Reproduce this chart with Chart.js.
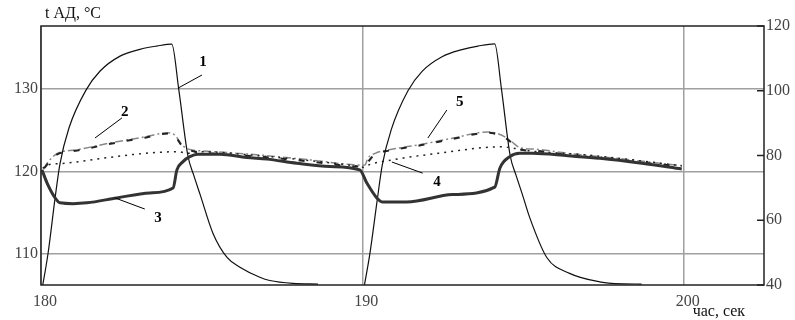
<!DOCTYPE html>
<html>
<head>
<meta charset="utf-8">
<script src="https://cdn.jsdelivr.net/npm/chart.js@4.4.1/dist/chart.umd.min.js"></script>
<style>
  body { margin: 0; background: #fff; }
</style>
</head>
<body>
<canvas id="graf" width="795" height="320"></canvas>
<script>
// оси
const xTicks = [180, 190, 200];
const leftTicks = [110, 120, 130];
const rightTicks = [40, 60, 80, 100, 120];

// кривая 1 (правая ось)
const t1 = [180.02, 180.22, 180.44, 180.59, 180.87, 181.40, 181.84, 182.46, 183.08, 183.60, 184.07,
            184.29, 184.57, 184.75, 184.95, 185.35, 185.79, 186.19, 186.81, 187.12, 187.84, 188.62,
            189.30,
            190.03, 190.24, 190.46, 190.62, 190.90, 191.42, 191.86, 192.48, 193.10, 193.60, 194.12,
            194.33, 194.60, 194.78, 194.98, 195.21, 195.74, 196.45, 197.48, 197.85, 198.69];
const v1 = [38, 49.8, 67.0, 77.4, 88.5, 100.2, 106.1, 110.7, 112.8, 113.8, 114.4,
            100.2, 80, 74, 68, 56, 48.5, 45.5, 42.4, 41.4, 40.5, 40.3,
            null,
            38, 50, 66, 77, 88, 100, 106, 110.5, 112.7, 113.8, 114.5,
            100.5, 80, 74, 68, 60.8, 48.5, 43.6, 40.8, 40.4, 40.3];

// кривая 2
const t2 = [180.08, 180.19, 180.40, 180.65, 181.06, 182.21, 183.23, 183.95, 184.17, 184.39, 184.70,
            185.00, 186.81, 188.40, 189.92, 190.08, 190.17, 190.40, 190.79, 191.85, 192.88, 193.90,
            194.34, 194.65, 194.90, 195.40, 196.40, 197.90, 199.94];
const v2 = [120.3, 121.0, 121.9, 122.4, 122.6, 123.5, 124.2, 124.7, 124.4, 123.2, 122.6,
            122.5, 122.0, 121.4, 120.8, 120.8, 121.6, 122.2, 122.6, 123.3, 124.1, 124.8,
            124.4, 123.6, 122.9, 122.7, 122.2, 121.6, 120.7];

// кривая 3
const t3 = [180.03, 180.19, 180.44, 180.59, 181.00, 181.43, 182.36, 183.39, 184.11, 184.23, 184.42,
            184.63, 184.88, 185.57, 186.40, 187.03, 187.96, 189.00, 189.92, 190.14, 190.45, 190.64,
            191.38, 192.80, 194.12, 194.28, 194.59, 194.90, 195.30, 196.40, 197.39, 198.70, 199.94];
const v3 = [120.2, 118.6, 116.8, 116.2, 116.1, 116.2, 116.8, 117.4, 118.0, 120.2, 121.2,
            121.8, 122.1, 122.1, 121.7, 121.5, 121.0, 120.6, 120.2, 118.6, 116.8, 116.3,
            116.3, 117.2, 118.1, 120.4, 121.8, 122.2, 122.2, 121.9, 121.6, 121.0, 120.3];

// кривая 4
const t4 = [180.05, 180.22, 180.75, 181.90, 183.23, 184.26, 184.57, 185.00, 186.80, 188.40, 189.92,
            190.05, 190.20, 190.92, 192.35, 194.34, 194.74, 195.00, 197.00, 199.94];
const v4 = [120.4, 120.8, 121.0, 121.6, 122.2, 122.4, 122.2, 122.4, 121.9, 121.3, 120.6,
            120.5, 120.8, 121.4, 122.2, 123.0, 122.8, 122.6, 122.0, 120.7];

// кривая 5
const t5 = [180.10, 180.40, 180.65, 181.06, 182.21, 183.23, 183.95, 184.17, 184.39, 184.70,
            185.00, 186.81, 188.40, 189.92, 190.10, 190.40, 190.79, 191.85, 192.88, 193.90,
            194.34, 194.65, 194.90, 195.40, 196.40, 197.90, 199.94];
const v5 = [120.4, 121.8, 122.3, 122.5, 123.4, 124.1, 124.6, 124.3, 123.1, 122.5,
            122.3, 121.8, 121.2, 120.6, 120.9, 122.1, 122.5, 123.2, 124.0, 124.7,
            124.3, 123.5, 122.7, 122.5, 122.0, 121.4, 120.6];

// подписи кривых: текст, точка текста, начало и конец выноски (в единицах осей)
const tagText = ['1', '2', '3', '4', '5'];
const tagAt = [[185.04, 133.3], [182.61, 127.2], [183.64, 114.4], [192.32, 118.7], [193.03, 128.4]];
const tagFrom = [[185.01, 131.7], [182.52, 126.5], [183.23, 115.45], [191.88, 119.8], [192.63, 127.45]];
const tagTo = [[184.26, 130.1], [181.68, 124.06], [182.30, 116.8], [190.92, 121.15], [192.04, 124.06]];

const pts = (t, v) => t.map((x, i) => ({ x: x, y: v[i] }));
const serif = '"Liberation Serif", "Times New Roman", serif';

const decor = {
  id: 'decor',
  afterDraw(chart) {
    const { ctx, chartArea: a } = chart;
    const x = chart.scales.x, y = chart.scales.y, y2 = chart.scales.y2;
    ctx.save();
    ctx.strokeStyle = '#222';
    ctx.lineWidth = 1.5;
    ctx.strokeRect(a.left, a.top, a.right - a.left, a.bottom - a.top);
    rightTicks.forEach(v => {
      const py = y2.getPixelForValue(v);
      ctx.beginPath();
      ctx.moveTo(a.right - 7, py);
      ctx.lineTo(a.right, py);
      ctx.stroke();
    });

    ctx.fillStyle = '#111';
    ctx.font = '16px ' + serif;
    ctx.textBaseline = 'middle';
    ctx.textAlign = 'left';
    ctx.fillText('t АД, °C', a.left + 4, a.top - 12);
    ctx.fillText('час, сек', x.getPixelForValue(200) + 9, 312);

    ctx.lineWidth = 1;
    ctx.strokeStyle = '#000';
    tagText.forEach((s, i) => {
      ctx.beginPath();
      ctx.moveTo(x.getPixelForValue(tagFrom[i][0]), y.getPixelForValue(tagFrom[i][1]));
      ctx.lineTo(x.getPixelForValue(tagTo[i][0]), y.getPixelForValue(tagTo[i][1]));
      ctx.stroke();
    });
    ctx.font = 'bold 15px ' + serif;
    ctx.textAlign = 'center';
    ctx.fillStyle = '#000';
    tagText.forEach((s, i) => {
      ctx.fillText(s, x.getPixelForValue(tagAt[i][0]), y.getPixelForValue(tagAt[i][1]));
    });
    ctx.restore();
  }
};

const line = (data, color, width, dash, axis) => ({
  data: data,
  yAxisID: axis,
  borderColor: color,
  borderWidth: width,
  borderDash: dash,
  pointRadius: 0,
  fill: false,
  cubicInterpolationMode: 'monotone',
  spanGaps: false
});

new Chart(document.getElementById('graf').getContext('2d'), {
  type: 'line',
  data: {
    datasets: [
      line(pts(t3, v3), '#333', 3, [], 'y'),
      line(pts(t1, v1), '#111', 1.2, [], 'y2'),
      line(pts(t4, v4), '#222', 1.5, [2, 5], 'y'),
      line(pts(t5, v5), '#222', 2, [6, 12], 'y'),
      line(pts(t2, v2), '#888', 1.5, [8, 3, 2, 3], 'y')
    ]
  },
  options: {
    responsive: false,
    animation: false,
    layout: { padding: { top: 26, left: 0, right: 0, bottom: 0 } },
    plugins: { legend: { display: false }, tooltip: { enabled: false } },
    scales: {
      x: {
        type: 'linear',
        min: 180,
        max: 202.5,
        afterBuildTicks: s => { s.ticks = xTicks.map(v => ({ value: v })); },
        afterFit: s => { s.height = 35; },
        grid: { color: '#a0a0a0', lineWidth: 1.5, drawTicks: false },
        border: { display: false },
        ticks: { color: '#444', font: { family: serif, size: 16 }, padding: 7, labelOffset: 4, maxRotation: 0 }
      },
      y: {
        position: 'left',
        min: 106.24,
        max: 137.64,
        afterBuildTicks: s => { s.ticks = leftTicks.map(v => ({ value: v })); },
        afterFit: s => { s.width = 41; },
        grid: { color: '#a0a0a0', lineWidth: 1.5, drawTicks: false },
        border: { display: false },
        ticks: { color: '#444', font: { family: serif, size: 16 }, padding: 3 }
      },
      y2: {
        position: 'right',
        min: 40,
        max: 120,
        afterBuildTicks: s => { s.ticks = rightTicks.map(v => ({ value: v })); },
        afterFit: s => { s.width = 31; },
        grid: { drawOnChartArea: false, drawTicks: false },
        border: { display: false },
        ticks: { color: '#444', font: { family: serif, size: 16 }, padding: 2 }
      }
    }
  },
  plugins: [decor]
});
</script>
</body>
</html>
